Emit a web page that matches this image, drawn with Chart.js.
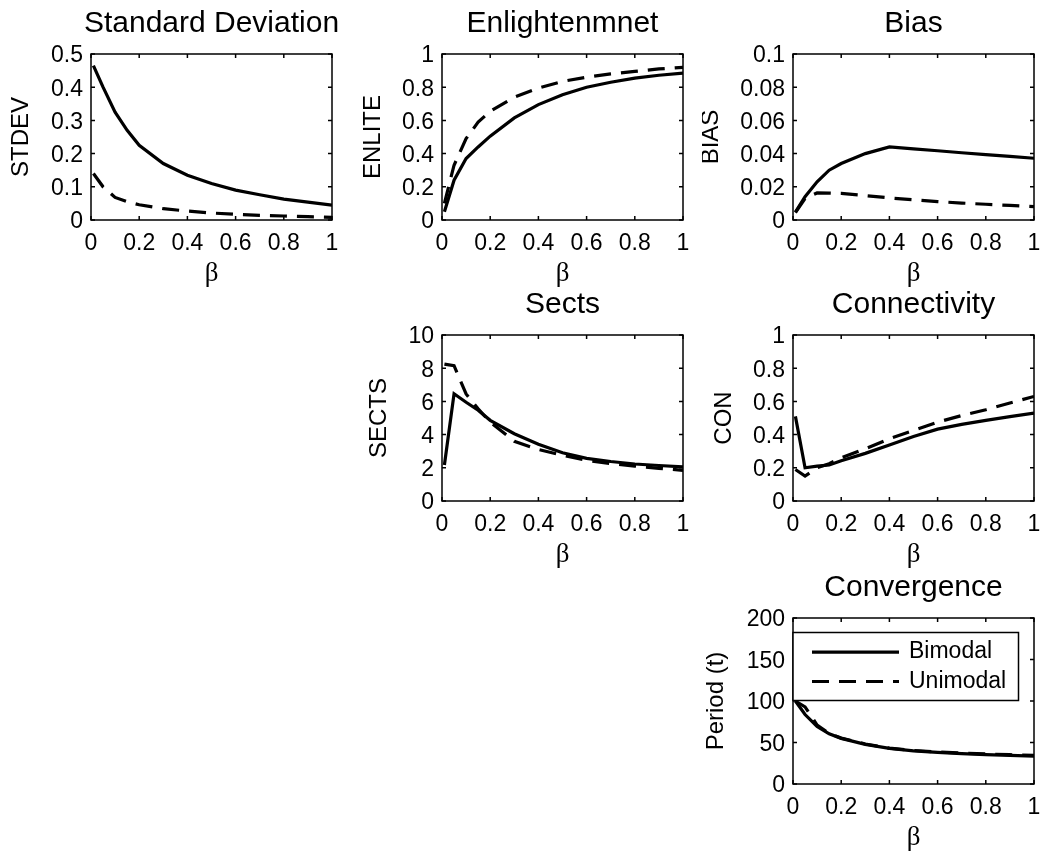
<!DOCTYPE html>
<html>
<head>
<meta charset="utf-8">
<script src="https://cdn.jsdelivr.net/npm/chart.js@4.4.0/dist/chart.umd.min.js"></script>
<style>
  body { margin: 0; background: #fff; width: 1040px; height: 851px; overflow: hidden; position: relative; }
  canvas { position: absolute; }
</style>
</head>
<body>
<canvas id="stdevChart" width="423" height="295" style="left:0px;top:0px"></canvas>
<canvas id="enliteChart" width="423" height="295" style="left:351px;top:0px"></canvas>
<canvas id="biasChart" width="423" height="295" style="left:702px;top:0px"></canvas>
<canvas id="sectsChart" width="423" height="295" style="left:351px;top:281px"></canvas>
<canvas id="conChart" width="423" height="295" style="left:702px;top:281px"></canvas>
<canvas id="convChart" width="423" height="295" style="left:702px;top:564px"></canvas>
<script>
const beta = [0.01, 0.05, 0.1, 0.15, 0.2, 0.3, 0.4, 0.5, 0.6, 0.7, 0.8, 0.9, 1.0];
const betaTicks = [0, 0.2, 0.4, 0.6, 0.8, 1];
const betaTickLabels = ["0", "0.2", "0.4", "0.6", "0.8", "1"];

const stdevBimodal = [0.465, 0.40, 0.325, 0.27, 0.225, 0.17, 0.135, 0.11, 0.09, 0.076, 0.063, 0.054, 0.045];
const stdevUnimodal = [0.14, 0.10, 0.068, 0.055, 0.046, 0.034, 0.027, 0.021, 0.017, 0.014, 0.012, 0.010, 0.008];
const stdevTicks = [0, 0.1, 0.2, 0.3, 0.4, 0.5];
const stdevTickLabels = ["0", "0.1", "0.2", "0.3", "0.4", "0.5"];

const enliteBimodal = [0.05, 0.24, 0.37, 0.44, 0.505, 0.615, 0.695, 0.755, 0.80, 0.83, 0.855, 0.872, 0.885];
const enliteUnimodal = [0.10, 0.33, 0.49, 0.59, 0.655, 0.74, 0.795, 0.835, 0.86, 0.88, 0.895, 0.91, 0.92];
const enliteTicks = [0, 0.2, 0.4, 0.6, 0.8, 1];
const enliteTickLabels = ["0", "0.2", "0.4", "0.6", "0.8", "1"];

const biasBimodal = [0.0047, 0.014, 0.023, 0.030, 0.034, 0.040, 0.044, 0.0428, 0.0417, 0.0405, 0.0394, 0.0383, 0.0372];
const biasUnimodal = [0.0045, 0.013, 0.0163, 0.0162, 0.016, 0.0147, 0.0133, 0.0122, 0.0111, 0.0102, 0.0095, 0.0088, 0.0081];
const biasTicks = [0, 0.02, 0.04, 0.06, 0.08, 0.1];
const biasTickLabels = ["0", "0.02", "0.04", "0.06", "0.08", "0.1"];

const sectsBimodal = [2.17, 6.46, 5.95, 5.47, 4.86, 4.05, 3.42, 2.91, 2.57, 2.38, 2.23, 2.14, 2.06];
const sectsUnimodal = [8.25, 8.15, 6.45, 5.55, 4.75, 3.6, 3.1, 2.75, 2.45, 2.25, 2.1, 1.97, 1.85];
const sectsTicks = [0, 2, 4, 6, 8, 10];
const sectsTickLabels = ["0", "2", "4", "6", "8", "10"];

const conBimodal = [0.51, 0.20, 0.21, 0.217, 0.243, 0.287, 0.338, 0.389, 0.433, 0.462, 0.486, 0.508, 0.53];
const conUnimodal = [0.19, 0.15, 0.20, 0.225, 0.26, 0.315, 0.375, 0.425, 0.475, 0.515, 0.55, 0.59, 0.63];
const conTicks = [0, 0.2, 0.4, 0.6, 0.8, 1];
const conTickLabels = ["0", "0.2", "0.4", "0.6", "0.8", "1"];

const convBimodal = [100, 83.7, 69.4, 60.4, 55, 47.8, 42.9, 40, 38, 36.6, 35.5, 34.5, 33.5];
const convUnimodal = [100, 93, 71, 61, 55.3, 48.2, 43.2, 40.4, 38.5, 37.2, 36.2, 35.3, 34.5];
const convTicks = [0, 50, 100, 150, 200];
const convTickLabels = ["0", "50", "100", "150", "200"];

const sans = "'Liberation Sans', Arial, sans-serif";

// frame round the plot area with inward ticks on all four sides
const boxPlugin = {
  id: "box",
  afterDatasetsDraw(chart) {
    const { ctx, chartArea: a, scales } = chart;
    ctx.save();
    ctx.strokeStyle = "#000";
    ctx.lineWidth = 1.5;
    ctx.setLineDash([]);
    ctx.strokeRect(a.left, a.top, a.right - a.left, a.bottom - a.top);
    ctx.beginPath();
    scales.x.ticks.forEach((t) => {
      const px = scales.x.getPixelForValue(t.value);
      ctx.moveTo(px, a.bottom);
      ctx.lineTo(px, a.bottom - 4);
      ctx.moveTo(px, a.top);
      ctx.lineTo(px, a.top + 4);
    });
    scales.y.ticks.forEach((t) => {
      const py = scales.y.getPixelForValue(t.value);
      ctx.moveTo(a.left, py);
      ctx.lineTo(a.left + 4, py);
      ctx.moveTo(a.right, py);
      ctx.lineTo(a.right - 4, py);
    });
    ctx.stroke();
    ctx.restore();
  },
};

// legend box drawn inside the Convergence plot
const insideLegend = {
  id: "insideLegend",
  afterDraw(chart) {
    const { ctx, chartArea: a } = chart;
    const x = a.left, y = a.top + 14.5, w = 225.5, h = 68;
    ctx.save();
    ctx.fillStyle = "#fff";
    ctx.fillRect(x, y, w, h);
    ctx.strokeStyle = "#000";
    ctx.lineWidth = 1.5;
    ctx.strokeRect(x, y, w, h);
    chart.data.datasets.forEach((ds, i) => {
      const ly = y + 19.6 + i * 29.4;
      ctx.beginPath();
      ctx.setLineDash(ds.borderDash || []);
      ctx.lineWidth = ds.borderWidth;
      ctx.moveTo(x + 19, ly);
      ctx.lineTo(x + 106, ly);
      ctx.stroke();
      ctx.setLineDash([]);
      ctx.fillStyle = "#000";
      ctx.font = "23px " + sans;
      ctx.textBaseline = "middle";
      ctx.textAlign = "left";
      ctx.fillText(ds.label, x + 116, ly);
    });
    ctx.restore();
  },
};

function makeChart(id, title, yLabel, yLabelPad, yTicks, yTickLabels, bimodal, unimodal, extra) {
  return new Chart(document.getElementById(id), {
    type: "line",
    data: {
      datasets: [
        {
          label: "Bimodal",
          data: beta.map((b, i) => ({ x: b, y: bimodal[i] })),
          borderColor: "#000",
          borderWidth: 3.2,
          pointRadius: 0,
          tension: 0,
          fill: false,
        },
        {
          label: "Unimodal",
          data: beta.map((b, i) => ({ x: b, y: unimodal[i] })),
          borderColor: "#000",
          borderWidth: 3.2,
          borderDash: [17, 10],
          pointRadius: 0,
          tension: 0,
          fill: false,
        },
      ],
    },
    options: {
      responsive: false,
      animation: false,
      devicePixelRatio: 1,
      layout: { padding: 0 },
      plugins: {
        legend: { display: false },
        tooltip: { enabled: false },
        title: {
          display: true,
          text: title,
          color: "#000",
          font: { family: sans, size: 30, weight: "normal", lineHeight: 1 },
          padding: { top: 9, bottom: 15 },
        },
      },
      scales: {
        x: {
          type: "linear",
          min: 0,
          max: 1,
          grid: { display: false, drawTicks: false },
          border: { display: false },
          afterBuildTicks: (s) => { s.ticks = betaTicks.map((v) => ({ value: v })); },
          // fixed axis height, and room on the right so the plot is centred under the title
          afterFit: (s) => { s.height = 75; s.paddingLeft = 0; s.paddingRight = 91; },
          ticks: {
            color: "#000",
            font: { family: sans, size: 23 },
            padding: 10,
            maxRotation: 0,
            autoSkip: false,
            callback: (v, i) => betaTickLabels[i],
          },
          title: {
            display: true,
            text: "β",
            color: "#000",
            font: { family: "'Liberation Serif', serif", size: 27, lineHeight: 1 },
            padding: { top: 0, bottom: 8 },
          },
        },
        y: {
          type: "linear",
          min: yTicks[0],
          max: yTicks[yTicks.length - 1],
          grid: { display: false, drawTicks: false },
          border: { display: false },
          afterBuildTicks: (s) => { s.ticks = yTicks.map((v) => ({ value: v })); },
          afterFit: (s) => { s.width = 91; s.paddingTop = 0; s.paddingBottom = 0; },
          ticks: {
            color: "#000",
            font: { family: sans, size: 23 },
            padding: 8,
            labelOffset: 2,
            autoSkip: false,
            callback: (v, i) => yTickLabels[i],
          },
          title: {
            display: true,
            text: yLabel,
            color: "#000",
            font: { family: sans, size: 24, lineHeight: 1 },
            padding: { top: yLabelPad, bottom: 0 },
          },
        },
      },
    },
    plugins: [boxPlugin].concat(extra || []),
  });
}

function init() {
  makeChart("stdevChart", "Standard Deviation", "STDEV", 9, stdevTicks, stdevTickLabels, stdevBimodal, stdevUnimodal);
  makeChart("enliteChart", "Enlightenmnet", "ENLITE", 10, enliteTicks, enliteTickLabels, enliteBimodal, enliteUnimodal);
  makeChart("biasChart", "Bias", "BIAS", -3, biasTicks, biasTickLabels, biasBimodal, biasUnimodal);
  makeChart("sectsChart", "Sects", "SECTS", 16, sectsTicks, sectsTickLabels, sectsBimodal, sectsUnimodal);
  makeChart("conChart", "Connectivity", "CON", 10, conTicks, conTickLabels, conBimodal, conUnimodal);
  makeChart("convChart", "Convergence", "Period (t)", 2, convTicks, convTickLabels, convBimodal, convUnimodal, [insideLegend]);
}

init();
</script>
</body>
</html>
